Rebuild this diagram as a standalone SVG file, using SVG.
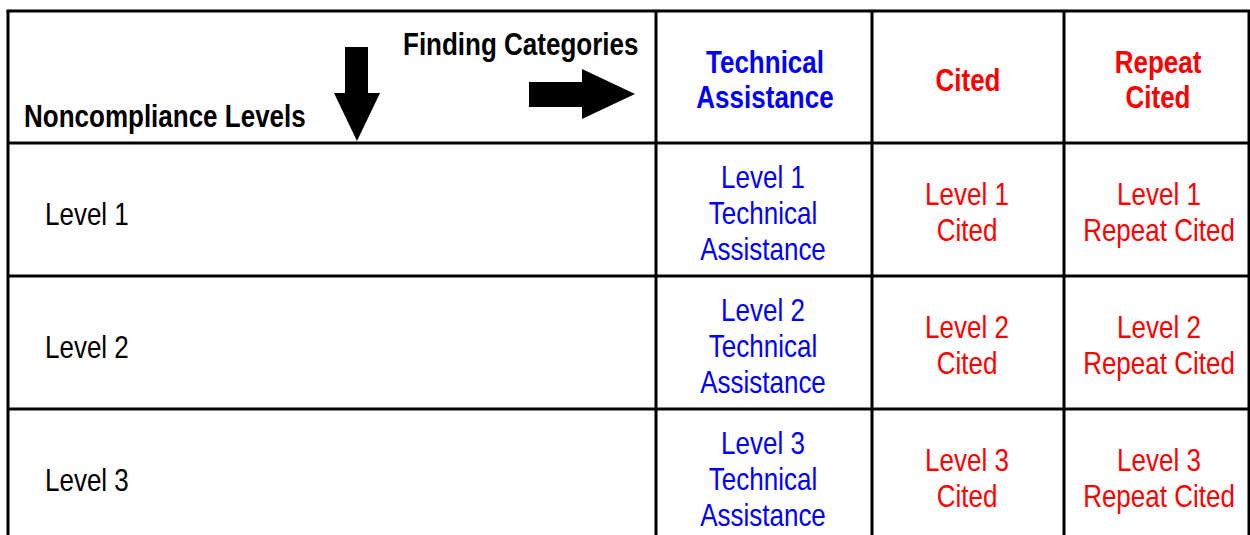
<svg xmlns="http://www.w3.org/2000/svg" width="1250" height="535" viewBox="0 0 1250 535">
<style>
.g{stroke:#000;stroke-width:3;fill:none}
.t{font-family:"Liberation Sans",Arial,sans-serif;font-size:26px;text-anchor:middle}
.tl{font-family:"Liberation Sans",Arial,sans-serif;font-size:26px}
.b{font-family:"Liberation Sans",Arial,sans-serif;font-size:26px;font-weight:bold}
.bc{text-anchor:middle}
.blue{fill:#0000FF}
.red{fill:#FF0000}
.k{fill:#000}
</style>
<rect width="1250" height="535" fill="#fff"/>
<g id="grid" class="g">
<line x1="6.5" y1="11" x2="1250" y2="11"/>
<line x1="8" y1="11" x2="8" y2="535"/>
<line x1="656" y1="11" x2="656" y2="535"/>
<line x1="872" y1="11" x2="872" y2="535"/>
<line x1="1064" y1="11" x2="1064" y2="535"/>
<line x1="1249" y1="11" x2="1249" y2="535"/>
<line x1="8" y1="143" x2="1250" y2="143"/>
<line x1="8" y1="276" x2="1250" y2="276"/>
<line x1="8" y1="409" x2="1250" y2="409"/>
</g>
<g id="corner">
<text class="b k" transform="translate(403 55) scale(1 1.22)">Finding Categories</text>
<text class="b k" transform="translate(24 127) scale(1 1.22)">Noncompliance Levels</text>
<polygon class="k" points="345,47 368,47 368,93 380,93 357,141 334,93 345,93"/>
<polygon class="k" points="529,82 582,82 582,69 635,94 582,119 582,107 529,107"/>
</g>
<g id="hdr-ta"><text class="b bc blue" transform="translate(765 73) scale(1 1.22)"><tspan x="0" y="0">Technical</tspan><tspan x="0" dy="28.3">Assistance</tspan></text></g>
<g id="hdr-cited"><text class="b bc red" transform="translate(968 91) scale(1 1.22)">Cited</text></g>
<g id="hdr-repeat"><text class="b bc red" transform="translate(1158 73) scale(1 1.22)"><tspan x="0" y="0">Repeat</tspan><tspan x="0" dy="28.3">Cited</tspan></text></g>

<g id="row1">
<text class="tl k" transform="translate(45 225) scale(1 1.18)">Level 1</text>
<text class="t blue" transform="translate(763 188) scale(1 1.18)"><tspan x="0" y="0">Level 1</tspan><tspan x="0" dy="30.5">Technical</tspan><tspan x="0" dy="30.5">Assistance</tspan></text>
<text class="t red" transform="translate(967 205) scale(1 1.18)"><tspan x="0" y="0">Level 1</tspan><tspan x="0" dy="30.5">Cited</tspan></text>
<text class="t red" transform="translate(1159 205) scale(1 1.18)"><tspan x="0" y="0">Level 1</tspan><tspan x="0" dy="30.5">Repeat Cited</tspan></text>
</g>
<g id="row2">
<text class="tl k" transform="translate(45 358) scale(1 1.18)">Level 2</text>
<text class="t blue" transform="translate(763 321) scale(1 1.18)"><tspan x="0" y="0">Level 2</tspan><tspan x="0" dy="30.5">Technical</tspan><tspan x="0" dy="30.5">Assistance</tspan></text>
<text class="t red" transform="translate(967 338) scale(1 1.18)"><tspan x="0" y="0">Level 2</tspan><tspan x="0" dy="30.5">Cited</tspan></text>
<text class="t red" transform="translate(1159 338) scale(1 1.18)"><tspan x="0" y="0">Level 2</tspan><tspan x="0" dy="30.5">Repeat Cited</tspan></text>
</g>
<g id="row3">
<text class="tl k" transform="translate(45 491) scale(1 1.18)">Level 3</text>
<text class="t blue" transform="translate(763 454) scale(1 1.18)"><tspan x="0" y="0">Level 3</tspan><tspan x="0" dy="30.5">Technical</tspan><tspan x="0" dy="30.5">Assistance</tspan></text>
<text class="t red" transform="translate(967 471) scale(1 1.18)"><tspan x="0" y="0">Level 3</tspan><tspan x="0" dy="30.5">Cited</tspan></text>
<text class="t red" transform="translate(1159 471) scale(1 1.18)"><tspan x="0" y="0">Level 3</tspan><tspan x="0" dy="30.5">Repeat Cited</tspan></text>
</g>
</svg>
